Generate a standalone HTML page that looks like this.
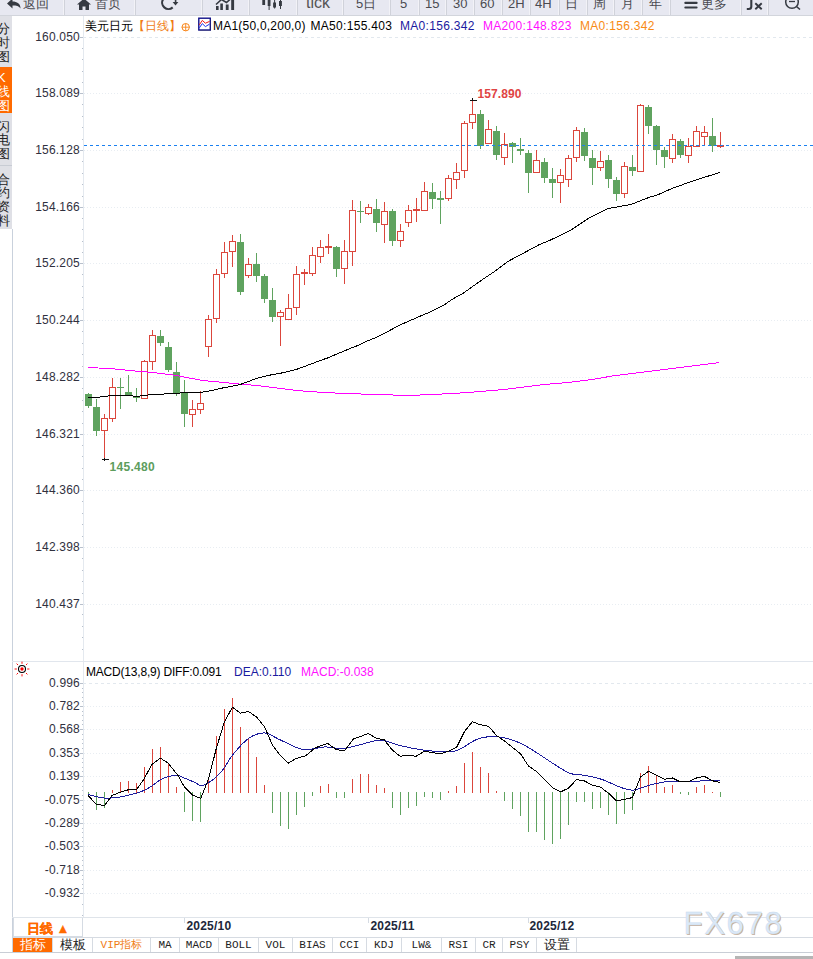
<!DOCTYPE html>
<html><head><meta charset="utf-8">
<style>
*{margin:0;padding:0;box-sizing:border-box}
html,body{width:813px;height:959px;overflow:hidden;background:#fff}
body{position:relative;font-family:"Liberation Sans",sans-serif;font-size:12px;color:#000}
.abs{position:absolute}
#tb{position:absolute;left:0;top:0;width:813px;height:16px;background:#e7e8f1;overflow:hidden}
#tb .t{position:absolute;top:-4.5px;font-size:13px;line-height:16px;color:#4a4a50;white-space:nowrap}
#side{position:absolute;left:0;top:16px;width:12px;height:213px;background:#dfe0e6;overflow:hidden}
#side .s{position:absolute;left:-3px;width:16px;font-size:13px;line-height:13.8px;color:#222;text-align:left}
.yl{position:absolute;right:733px;width:70px;text-align:right;font-size:12px;line-height:16px;color:#30303e;letter-spacing:0.2px}
svg{position:absolute;left:0;top:0}
.lg{position:absolute;top:18px;font-size:12px;line-height:16px;white-space:nowrap;letter-spacing:0.3px}
.xl{position:absolute;top:916px;font-size:12px;font-weight:bold;line-height:20px;color:#20263a;letter-spacing:0.2px}
#bt{position:absolute;left:13px;top:937px;width:800px;height:16px;border-top:1px solid #d6dbe2;border-bottom:1px solid #c9ced6}
#bt .t{position:absolute;top:0;height:14px;font-family:"Liberation Mono",monospace;font-size:11px;line-height:14px;text-align:center;border-right:1px solid #d6dbe2;color:#222}
</style></head><body>
<div id="tb">
 <svg width="813" height="16" style="position:absolute;left:0;top:0">
  <g fill="#f2f2f7"><rect x="63" y="0" width="1" height="16" /><rect x="134" y="0" width="1" height="16" /><rect x="201" y="0" width="1" height="16" /><rect x="248" y="0" width="1" height="16" /><rect x="296" y="0" width="1" height="16" /><rect x="342" y="0" width="1" height="16" /><rect x="389" y="0" width="1" height="16" /><rect x="418" y="0" width="1" height="16" /><rect x="445" y="0" width="1" height="16" /><rect x="473" y="0" width="1" height="16" /><rect x="501" y="0" width="1" height="16" /><rect x="529" y="0" width="1" height="16" /><rect x="558" y="0" width="1" height="16" /><rect x="586" y="0" width="1" height="16" /><rect x="613" y="0" width="1" height="16" /><rect x="641" y="0" width="1" height="16" /><rect x="669" y="0" width="1" height="16" /><rect x="740" y="0" width="1" height="16" /><rect x="767" y="0" width="1" height="16" /></g><g fill="#d0d2da"><rect x="64" y="0" width="1" height="15" /><rect x="135" y="0" width="1" height="15" /><rect x="202" y="0" width="1" height="15" /><rect x="249" y="0" width="1" height="15" /><rect x="297" y="0" width="1" height="15" /><rect x="343" y="0" width="1" height="15" /><rect x="390" y="0" width="1" height="15" /><rect x="419" y="0" width="1" height="15" /><rect x="446" y="0" width="1" height="15" /><rect x="474" y="0" width="1" height="15" /><rect x="502" y="0" width="1" height="15" /><rect x="530" y="0" width="1" height="15" /><rect x="559" y="0" width="1" height="15" /><rect x="587" y="0" width="1" height="15" /><rect x="614" y="0" width="1" height="15" /><rect x="642" y="0" width="1" height="15" /><rect x="670" y="0" width="1" height="15" /><rect x="741" y="0" width="1" height="15" /><rect x="768" y="0" width="1" height="15" /></g>
  <g fill="#363a42" stroke="none">
   <path d="M7,3.5 L12.5,-1.5 L12.5,1.5 C17,1.5 20.5,3.5 20.5,8.5 C19,6 16.5,5.5 12.5,5.5 L12.5,8.5 Z"/>
   <path d="M77,4.5 L84,-1.5 L91,4.5 L89,4.5 L89,10 L85.5,10 L85.5,6.5 L82.5,6.5 L82.5,10 L79,10 L79,4.5 Z"/>
   <path d="M172.6,2 L178.4,2 L175.5,5.6 Z"/>
   <rect x="216" y="6" width="2.6" height="4"/><rect x="220.3" y="3.5" width="2.6" height="6.5"/><rect x="225.8" y="4.5" width="2.8" height="5.5"/><rect x="231.2" y="0" width="2.9" height="10"/>
   <path d="M216,4.5 L221.5,-0.5 L226.5,2.5 L231,-1.5" stroke="#363a42" stroke-width="1.6" fill="none"/>
   <rect x="262.3" y="-2" width="2.8" height="7"/><rect x="267.7" y="-2" width="2.8" height="8"/><rect x="268.6" y="5" width="1" height="5"/>
   <rect x="273.1" y="2.5" width="2.9" height="5"/><rect x="274.1" y="0" width="1" height="8.5"/>
   <rect x="279" y="1" width="2.9" height="5"/><rect x="280" y="0" width="1" height="9"/>
   <rect x="684.3" y="1.8" width="13.3" height="2.1" rx="1"/><rect x="684.3" y="6.4" width="13.3" height="2.2" rx="1"/>
  </g>
  <path d="M163.3,-1 A6.35,6.35 0 0 0 172.7,7.4" stroke="#363a42" stroke-width="2.1" fill="none"/><rect x="174.8" y="-1" width="1.6" height="3.5" fill="#363a42"/>
  <circle cx="792" cy="2" r="6.3" stroke="#363a42" stroke-width="1.5" fill="none"/>
  <path d="M789,1.5 L795,1.5" stroke="#363a42" stroke-width="1.3"/>
  <path d="M796.5,6.5 L800,9.5" stroke="#363a42" stroke-width="1.6"/>
  <path d="M751.3,-2 L751.3,6.5 Q751.3,9 748.8,9 L746.8,9" stroke="#363a42" stroke-width="2.1" fill="none"/>
  <path d="M755.3,3.2 L761.7,9.3 M761.7,3.2 L755.3,9.3" stroke="#363a42" stroke-width="1.9" fill="none"/>
  <rect x="0" y="15" width="813" height="1" fill="#d2d5dc"/>
 </svg>
 <div class="t" style="left:23px;">返回</div>
 <div class="t" style="left:95px;">首页</div>
 <div class="t" style="left:306px;font-size:16px;top:-5px;color:#555">tick</div>
 <div class="t" style="left:356px;">5日</div>
 <div class="t" style="left:400px;">5</div>
 <div class="t" style="left:425px;">15</div>
 <div class="t" style="left:453px;">30</div>
 <div class="t" style="left:480px;">60</div>
 <div class="t" style="left:508px;">2H</div>
 <div class="t" style="left:535px;">4H</div>
 <div class="t" style="left:565px;">日</div>
 <div class="t" style="left:593px;">周</div>
 <div class="t" style="left:620.5px;">月</div>
 <div class="t" style="left:649px;">年</div>
 <div class="t" style="left:701px;">更多</div>
</div>
<div id="side">
 <div class="s" style="top:6px;">分<br>时<br>图</div>
 <div class="abs" style="left:0;top:51px;width:12px;height:46px;background:#ff6a00"></div>
 <div class="s" style="top:55px;color:#fff">K<br>线<br>图</div>
 <div class="abs" style="left:0;top:149px;width:12px;height:1px;background:#c8ccd4"></div>
 <div class="s" style="top:103.5px;">闪<br>电<br>图</div>
 <div class="s" style="top:156.5px;">合<br>约<br>资<br>料</div>
</div>
<div class="abs" style="left:12px;top:229px;width:1px;height:724px;background:#c9d1dc"></div>
<div class="abs" style="left:83px;top:16px;width:1px;height:901px;background:#e4e9ef"></div>
<div class="abs" style="left:12px;top:661px;width:801px;height:1px;background:#e1e6ed"></div>
<svg width="813" height="959" shape-rendering="crispEdges">
<line x1="84" y1="37.5" x2="813" y2="37.5" stroke="#e2e8ee" stroke-dasharray="3 3" stroke-dashoffset="1"/>
<line x1="84" y1="93.5" x2="813" y2="93.5" stroke="#e8edf2" stroke-dasharray="1 2"/>
<line x1="84" y1="150.5" x2="813" y2="150.5" stroke="#e8edf2" stroke-dasharray="1 2"/>
<line x1="84" y1="207.5" x2="813" y2="207.5" stroke="#e8edf2" stroke-dasharray="1 2"/>
<line x1="84" y1="263.5" x2="813" y2="263.5" stroke="#e8edf2" stroke-dasharray="1 2"/>
<line x1="84" y1="320.5" x2="813" y2="320.5" stroke="#e8edf2" stroke-dasharray="1 2"/>
<line x1="84" y1="377.5" x2="813" y2="377.5" stroke="#e8edf2" stroke-dasharray="1 2"/>
<line x1="84" y1="434.5" x2="813" y2="434.5" stroke="#e8edf2" stroke-dasharray="1 2"/>
<line x1="84" y1="490.5" x2="813" y2="490.5" stroke="#e8edf2" stroke-dasharray="1 2"/>
<line x1="84" y1="547.5" x2="813" y2="547.5" stroke="#e8edf2" stroke-dasharray="1 2"/>
<line x1="84" y1="604.5" x2="813" y2="604.5" stroke="#e8edf2" stroke-dasharray="1 2"/>
<line x1="84" y1="683.5" x2="813" y2="683.5" stroke="#e2e8ee" stroke-dasharray="3 3" stroke-dashoffset="1"/>
<line x1="84" y1="706.5" x2="813" y2="706.5" stroke="#e8edf2" stroke-dasharray="1 2"/>
<line x1="84" y1="729.5" x2="813" y2="729.5" stroke="#e8edf2" stroke-dasharray="1 2"/>
<line x1="84" y1="753.5" x2="813" y2="753.5" stroke="#e8edf2" stroke-dasharray="1 2"/>
<line x1="84" y1="776.5" x2="813" y2="776.5" stroke="#e8edf2" stroke-dasharray="1 2"/>
<line x1="84" y1="800.5" x2="813" y2="800.5" stroke="#e8edf2" stroke-dasharray="1 2"/>
<line x1="84" y1="823.5" x2="813" y2="823.5" stroke="#e8edf2" stroke-dasharray="1 2"/>
<line x1="84" y1="846.5" x2="813" y2="846.5" stroke="#e8edf2" stroke-dasharray="1 2"/>
<line x1="84" y1="870.5" x2="813" y2="870.5" stroke="#e8edf2" stroke-dasharray="1 2"/>
<line x1="84" y1="893.5" x2="813" y2="893.5" stroke="#e8edf2" stroke-dasharray="1 2"/>
<line x1="80" y1="37.5" x2="83" y2="37.5" stroke="#b8c0cc"/>
<line x1="82" y1="48.5" x2="83" y2="48.5" stroke="#b8c0cc"/>
<line x1="82" y1="59.5" x2="83" y2="59.5" stroke="#b8c0cc"/>
<line x1="82" y1="71.5" x2="83" y2="71.5" stroke="#b8c0cc"/>
<line x1="82" y1="82.5" x2="83" y2="82.5" stroke="#b8c0cc"/>
<line x1="80" y1="93.5" x2="83" y2="93.5" stroke="#b8c0cc"/>
<line x1="82" y1="104.5" x2="83" y2="104.5" stroke="#b8c0cc"/>
<line x1="82" y1="116.5" x2="83" y2="116.5" stroke="#b8c0cc"/>
<line x1="82" y1="127.5" x2="83" y2="127.5" stroke="#b8c0cc"/>
<line x1="82" y1="139.5" x2="83" y2="139.5" stroke="#b8c0cc"/>
<line x1="80" y1="150.5" x2="83" y2="150.5" stroke="#b8c0cc"/>
<line x1="82" y1="161.5" x2="83" y2="161.5" stroke="#b8c0cc"/>
<line x1="82" y1="173.5" x2="83" y2="173.5" stroke="#b8c0cc"/>
<line x1="82" y1="184.5" x2="83" y2="184.5" stroke="#b8c0cc"/>
<line x1="82" y1="196.5" x2="83" y2="196.5" stroke="#b8c0cc"/>
<line x1="80" y1="207.5" x2="83" y2="207.5" stroke="#b8c0cc"/>
<line x1="82" y1="218.5" x2="83" y2="218.5" stroke="#b8c0cc"/>
<line x1="82" y1="229.5" x2="83" y2="229.5" stroke="#b8c0cc"/>
<line x1="82" y1="241.5" x2="83" y2="241.5" stroke="#b8c0cc"/>
<line x1="82" y1="252.5" x2="83" y2="252.5" stroke="#b8c0cc"/>
<line x1="80" y1="263.5" x2="83" y2="263.5" stroke="#b8c0cc"/>
<line x1="82" y1="274.5" x2="83" y2="274.5" stroke="#b8c0cc"/>
<line x1="82" y1="286.5" x2="83" y2="286.5" stroke="#b8c0cc"/>
<line x1="82" y1="297.5" x2="83" y2="297.5" stroke="#b8c0cc"/>
<line x1="82" y1="309.5" x2="83" y2="309.5" stroke="#b8c0cc"/>
<line x1="80" y1="320.5" x2="83" y2="320.5" stroke="#b8c0cc"/>
<line x1="82" y1="331.5" x2="83" y2="331.5" stroke="#b8c0cc"/>
<line x1="82" y1="343.5" x2="83" y2="343.5" stroke="#b8c0cc"/>
<line x1="82" y1="354.5" x2="83" y2="354.5" stroke="#b8c0cc"/>
<line x1="82" y1="366.5" x2="83" y2="366.5" stroke="#b8c0cc"/>
<line x1="80" y1="377.5" x2="83" y2="377.5" stroke="#b8c0cc"/>
<line x1="82" y1="388.5" x2="83" y2="388.5" stroke="#b8c0cc"/>
<line x1="82" y1="400.5" x2="83" y2="400.5" stroke="#b8c0cc"/>
<line x1="82" y1="411.5" x2="83" y2="411.5" stroke="#b8c0cc"/>
<line x1="82" y1="423.5" x2="83" y2="423.5" stroke="#b8c0cc"/>
<line x1="80" y1="434.5" x2="83" y2="434.5" stroke="#b8c0cc"/>
<line x1="82" y1="445.5" x2="83" y2="445.5" stroke="#b8c0cc"/>
<line x1="82" y1="456.5" x2="83" y2="456.5" stroke="#b8c0cc"/>
<line x1="82" y1="468.5" x2="83" y2="468.5" stroke="#b8c0cc"/>
<line x1="82" y1="479.5" x2="83" y2="479.5" stroke="#b8c0cc"/>
<line x1="80" y1="490.5" x2="83" y2="490.5" stroke="#b8c0cc"/>
<line x1="82" y1="501.5" x2="83" y2="501.5" stroke="#b8c0cc"/>
<line x1="82" y1="513.5" x2="83" y2="513.5" stroke="#b8c0cc"/>
<line x1="82" y1="524.5" x2="83" y2="524.5" stroke="#b8c0cc"/>
<line x1="82" y1="536.5" x2="83" y2="536.5" stroke="#b8c0cc"/>
<line x1="80" y1="547.5" x2="83" y2="547.5" stroke="#b8c0cc"/>
<line x1="82" y1="558.5" x2="83" y2="558.5" stroke="#b8c0cc"/>
<line x1="82" y1="570.5" x2="83" y2="570.5" stroke="#b8c0cc"/>
<line x1="82" y1="581.5" x2="83" y2="581.5" stroke="#b8c0cc"/>
<line x1="82" y1="593.5" x2="83" y2="593.5" stroke="#b8c0cc"/>
<line x1="80" y1="604.5" x2="83" y2="604.5" stroke="#b8c0cc"/>
<line x1="82" y1="48.5" x2="83" y2="48.5" stroke="#b8c0cc"/>
<line x1="82" y1="59.5" x2="83" y2="59.5" stroke="#b8c0cc"/>
<line x1="82" y1="71.5" x2="83" y2="71.5" stroke="#b8c0cc"/>
<line x1="82" y1="82.5" x2="83" y2="82.5" stroke="#b8c0cc"/>
<line x1="82" y1="614.5" x2="83" y2="614.5" stroke="#b8c0cc"/>
<line x1="82" y1="626.5" x2="83" y2="626.5" stroke="#b8c0cc"/>
<line x1="82" y1="637.5" x2="83" y2="637.5" stroke="#b8c0cc"/>
<line x1="82" y1="649.5" x2="83" y2="649.5" stroke="#b8c0cc"/>
<line x1="80" y1="683.5" x2="83" y2="683.5" stroke="#b8c0cc"/>
<line x1="82" y1="688.5" x2="83" y2="688.5" stroke="#b8c0cc"/>
<line x1="82" y1="692.5" x2="83" y2="692.5" stroke="#b8c0cc"/>
<line x1="82" y1="697.5" x2="83" y2="697.5" stroke="#b8c0cc"/>
<line x1="82" y1="701.5" x2="83" y2="701.5" stroke="#b8c0cc"/>
<line x1="80" y1="706.5" x2="83" y2="706.5" stroke="#b8c0cc"/>
<line x1="82" y1="711.5" x2="83" y2="711.5" stroke="#b8c0cc"/>
<line x1="82" y1="715.5" x2="83" y2="715.5" stroke="#b8c0cc"/>
<line x1="82" y1="720.5" x2="83" y2="720.5" stroke="#b8c0cc"/>
<line x1="82" y1="724.5" x2="83" y2="724.5" stroke="#b8c0cc"/>
<line x1="80" y1="729.5" x2="83" y2="729.5" stroke="#b8c0cc"/>
<line x1="82" y1="734.5" x2="83" y2="734.5" stroke="#b8c0cc"/>
<line x1="82" y1="739.5" x2="83" y2="739.5" stroke="#b8c0cc"/>
<line x1="82" y1="743.5" x2="83" y2="743.5" stroke="#b8c0cc"/>
<line x1="82" y1="748.5" x2="83" y2="748.5" stroke="#b8c0cc"/>
<line x1="80" y1="753.5" x2="83" y2="753.5" stroke="#b8c0cc"/>
<line x1="82" y1="758.5" x2="83" y2="758.5" stroke="#b8c0cc"/>
<line x1="82" y1="762.5" x2="83" y2="762.5" stroke="#b8c0cc"/>
<line x1="82" y1="767.5" x2="83" y2="767.5" stroke="#b8c0cc"/>
<line x1="82" y1="771.5" x2="83" y2="771.5" stroke="#b8c0cc"/>
<line x1="80" y1="776.5" x2="83" y2="776.5" stroke="#b8c0cc"/>
<line x1="82" y1="781.5" x2="83" y2="781.5" stroke="#b8c0cc"/>
<line x1="82" y1="786.5" x2="83" y2="786.5" stroke="#b8c0cc"/>
<line x1="82" y1="790.5" x2="83" y2="790.5" stroke="#b8c0cc"/>
<line x1="82" y1="795.5" x2="83" y2="795.5" stroke="#b8c0cc"/>
<line x1="80" y1="800.5" x2="83" y2="800.5" stroke="#b8c0cc"/>
<line x1="82" y1="805.5" x2="83" y2="805.5" stroke="#b8c0cc"/>
<line x1="82" y1="809.5" x2="83" y2="809.5" stroke="#b8c0cc"/>
<line x1="82" y1="814.5" x2="83" y2="814.5" stroke="#b8c0cc"/>
<line x1="82" y1="818.5" x2="83" y2="818.5" stroke="#b8c0cc"/>
<line x1="80" y1="823.5" x2="83" y2="823.5" stroke="#b8c0cc"/>
<line x1="82" y1="828.5" x2="83" y2="828.5" stroke="#b8c0cc"/>
<line x1="82" y1="832.5" x2="83" y2="832.5" stroke="#b8c0cc"/>
<line x1="82" y1="837.5" x2="83" y2="837.5" stroke="#b8c0cc"/>
<line x1="82" y1="841.5" x2="83" y2="841.5" stroke="#b8c0cc"/>
<line x1="80" y1="846.5" x2="83" y2="846.5" stroke="#b8c0cc"/>
<line x1="82" y1="851.5" x2="83" y2="851.5" stroke="#b8c0cc"/>
<line x1="82" y1="856.5" x2="83" y2="856.5" stroke="#b8c0cc"/>
<line x1="82" y1="860.5" x2="83" y2="860.5" stroke="#b8c0cc"/>
<line x1="82" y1="865.5" x2="83" y2="865.5" stroke="#b8c0cc"/>
<line x1="80" y1="870.5" x2="83" y2="870.5" stroke="#b8c0cc"/>
<line x1="82" y1="875.5" x2="83" y2="875.5" stroke="#b8c0cc"/>
<line x1="82" y1="879.5" x2="83" y2="879.5" stroke="#b8c0cc"/>
<line x1="82" y1="884.5" x2="83" y2="884.5" stroke="#b8c0cc"/>
<line x1="82" y1="888.5" x2="83" y2="888.5" stroke="#b8c0cc"/>
<line x1="80" y1="893.5" x2="83" y2="893.5" stroke="#b8c0cc"/>
<line x1="82" y1="904.5" x2="83" y2="904.5" stroke="#b8c0cc"/>
<line x1="82" y1="915.5" x2="83" y2="915.5" stroke="#b8c0cc"/>
<rect x="88" y="393" width="1" height="15" fill="#5fa35f"/>
<rect x="85" y="394" width="7" height="12" fill="#5fa35f"/>
<rect x="96" y="399" width="1" height="37" fill="#5fa35f"/>
<rect x="93" y="407" width="7" height="24" fill="#5fa35f"/>
<rect x="104" y="414" width="1" height="4" fill="#db463c"/>
<rect x="104" y="431" width="1" height="29" fill="#db463c"/>
<rect x="101" y="418" width="7" height="13" fill="#db463c"/>
<rect x="102" y="419" width="5" height="11" fill="#fff"/>
<rect x="112" y="378" width="1" height="9" fill="#db463c"/>
<rect x="112" y="419" width="1" height="3" fill="#db463c"/>
<rect x="109" y="387" width="7" height="32" fill="#db463c"/>
<rect x="110" y="388" width="5" height="30" fill="#fff"/>
<rect x="120" y="378" width="1" height="31" fill="#5fa35f"/>
<rect x="117" y="387" width="7" height="1" fill="#5fa35f"/>
<rect x="128" y="375" width="1" height="21" fill="#5fa35f"/>
<rect x="125" y="392" width="7" height="3" fill="#5fa35f"/>
<rect x="136" y="388" width="1" height="14" fill="#5fa35f"/>
<rect x="133" y="396" width="7" height="2" fill="#5fa35f"/>
<rect x="144" y="360" width="1" height="1" fill="#db463c"/>
<rect x="141" y="361" width="7" height="38" fill="#db463c"/>
<rect x="142" y="362" width="5" height="36" fill="#fff"/>
<rect x="152" y="330" width="1" height="5" fill="#db463c"/>
<rect x="152" y="362" width="1" height="8" fill="#db463c"/>
<rect x="149" y="335" width="7" height="27" fill="#db463c"/>
<rect x="150" y="336" width="5" height="25" fill="#fff"/>
<rect x="160" y="330" width="1" height="16" fill="#5fa35f"/>
<rect x="157" y="336" width="7" height="7" fill="#5fa35f"/>
<rect x="168" y="342" width="1" height="30" fill="#5fa35f"/>
<rect x="165" y="347" width="7" height="23" fill="#5fa35f"/>
<rect x="176" y="362" width="1" height="34" fill="#5fa35f"/>
<rect x="173" y="372" width="7" height="22" fill="#5fa35f"/>
<rect x="184" y="380" width="1" height="47" fill="#5fa35f"/>
<rect x="181" y="392" width="7" height="22" fill="#5fa35f"/>
<rect x="192" y="400" width="1" height="9" fill="#db463c"/>
<rect x="192" y="415" width="1" height="12" fill="#db463c"/>
<rect x="189" y="409" width="7" height="6" fill="#db463c"/>
<rect x="190" y="410" width="5" height="4" fill="#fff"/>
<rect x="200" y="391" width="1" height="12" fill="#db463c"/>
<rect x="200" y="410" width="1" height="4" fill="#db463c"/>
<rect x="197" y="403" width="7" height="7" fill="#db463c"/>
<rect x="198" y="404" width="5" height="5" fill="#fff"/>
<rect x="208" y="315" width="1" height="4" fill="#db463c"/>
<rect x="208" y="347" width="1" height="10" fill="#db463c"/>
<rect x="205" y="319" width="7" height="28" fill="#db463c"/>
<rect x="206" y="320" width="5" height="26" fill="#fff"/>
<rect x="216" y="269" width="1" height="5" fill="#db463c"/>
<rect x="216" y="319" width="1" height="4" fill="#db463c"/>
<rect x="213" y="274" width="7" height="45" fill="#db463c"/>
<rect x="214" y="275" width="5" height="43" fill="#fff"/>
<rect x="224" y="242" width="1" height="10" fill="#db463c"/>
<rect x="224" y="274" width="1" height="4" fill="#db463c"/>
<rect x="221" y="252" width="7" height="22" fill="#db463c"/>
<rect x="222" y="253" width="5" height="20" fill="#fff"/>
<rect x="232" y="235" width="1" height="6" fill="#db463c"/>
<rect x="232" y="252" width="1" height="15" fill="#db463c"/>
<rect x="229" y="241" width="7" height="11" fill="#db463c"/>
<rect x="230" y="242" width="5" height="9" fill="#fff"/>
<rect x="240" y="234" width="1" height="61" fill="#5fa35f"/>
<rect x="237" y="242" width="7" height="50" fill="#5fa35f"/>
<rect x="248" y="258" width="1" height="6" fill="#db463c"/>
<rect x="248" y="276" width="1" height="2" fill="#db463c"/>
<rect x="245" y="264" width="7" height="12" fill="#db463c"/>
<rect x="246" y="265" width="5" height="10" fill="#fff"/>
<rect x="256" y="253" width="1" height="29" fill="#5fa35f"/>
<rect x="253" y="264" width="7" height="12" fill="#5fa35f"/>
<rect x="264" y="274" width="1" height="29" fill="#5fa35f"/>
<rect x="261" y="276" width="7" height="23" fill="#5fa35f"/>
<rect x="272" y="288" width="1" height="34" fill="#5fa35f"/>
<rect x="269" y="300" width="7" height="17" fill="#5fa35f"/>
<rect x="280" y="310" width="1" height="2" fill="#db463c"/>
<rect x="280" y="317" width="1" height="29" fill="#db463c"/>
<rect x="277" y="312" width="7" height="5" fill="#db463c"/>
<rect x="278" y="313" width="5" height="3" fill="#fff"/>
<rect x="288" y="294" width="1" height="14" fill="#db463c"/>
<rect x="285" y="308" width="7" height="12" fill="#db463c"/>
<rect x="286" y="309" width="5" height="10" fill="#fff"/>
<rect x="296" y="266" width="1" height="8" fill="#db463c"/>
<rect x="296" y="308" width="1" height="7" fill="#db463c"/>
<rect x="293" y="274" width="7" height="34" fill="#db463c"/>
<rect x="294" y="275" width="5" height="32" fill="#fff"/>
<rect x="304" y="269" width="1" height="16" fill="#db463c"/>
<rect x="301" y="272" width="7" height="2" fill="#db463c"/>
<rect x="312" y="247" width="1" height="8" fill="#db463c"/>
<rect x="312" y="274" width="1" height="2" fill="#db463c"/>
<rect x="309" y="255" width="7" height="19" fill="#db463c"/>
<rect x="310" y="256" width="5" height="17" fill="#fff"/>
<rect x="320" y="240" width="1" height="7" fill="#db463c"/>
<rect x="320" y="257" width="1" height="6" fill="#db463c"/>
<rect x="317" y="247" width="7" height="10" fill="#db463c"/>
<rect x="318" y="248" width="5" height="8" fill="#fff"/>
<rect x="328" y="234" width="1" height="20" fill="#db463c"/>
<rect x="325" y="246" width="7" height="2" fill="#db463c"/>
<rect x="336" y="246" width="1" height="31" fill="#5fa35f"/>
<rect x="333" y="247" width="7" height="22" fill="#5fa35f"/>
<rect x="344" y="240" width="1" height="11" fill="#db463c"/>
<rect x="344" y="269" width="1" height="15" fill="#db463c"/>
<rect x="341" y="251" width="7" height="18" fill="#db463c"/>
<rect x="342" y="252" width="5" height="16" fill="#fff"/>
<rect x="352" y="200" width="1" height="10" fill="#db463c"/>
<rect x="352" y="252" width="1" height="14" fill="#db463c"/>
<rect x="349" y="210" width="7" height="42" fill="#db463c"/>
<rect x="350" y="211" width="5" height="40" fill="#fff"/>
<rect x="360" y="201" width="1" height="22" fill="#5fa35f"/>
<rect x="357" y="211" width="7" height="1" fill="#5fa35f"/>
<rect x="368" y="204" width="1" height="3" fill="#db463c"/>
<rect x="368" y="214" width="1" height="1" fill="#db463c"/>
<rect x="365" y="207" width="7" height="7" fill="#db463c"/>
<rect x="366" y="208" width="5" height="5" fill="#fff"/>
<rect x="376" y="199" width="1" height="33" fill="#5fa35f"/>
<rect x="373" y="209" width="7" height="14" fill="#5fa35f"/>
<rect x="384" y="202" width="1" height="9" fill="#db463c"/>
<rect x="384" y="225" width="1" height="18" fill="#db463c"/>
<rect x="381" y="211" width="7" height="14" fill="#db463c"/>
<rect x="382" y="212" width="5" height="12" fill="#fff"/>
<rect x="392" y="209" width="1" height="37" fill="#5fa35f"/>
<rect x="389" y="211" width="7" height="30" fill="#5fa35f"/>
<rect x="400" y="224" width="1" height="7" fill="#db463c"/>
<rect x="400" y="241" width="1" height="6" fill="#db463c"/>
<rect x="397" y="231" width="7" height="10" fill="#db463c"/>
<rect x="398" y="232" width="5" height="8" fill="#fff"/>
<rect x="408" y="205" width="1" height="5" fill="#db463c"/>
<rect x="408" y="223" width="1" height="4" fill="#db463c"/>
<rect x="405" y="210" width="7" height="13" fill="#db463c"/>
<rect x="406" y="211" width="5" height="11" fill="#fff"/>
<rect x="416" y="198" width="1" height="24" fill="#db463c"/>
<rect x="413" y="209" width="7" height="2" fill="#db463c"/>
<rect x="424" y="182" width="1" height="9" fill="#db463c"/>
<rect x="421" y="191" width="7" height="20" fill="#db463c"/>
<rect x="422" y="192" width="5" height="18" fill="#fff"/>
<rect x="432" y="183" width="1" height="26" fill="#5fa35f"/>
<rect x="429" y="192" width="7" height="7" fill="#5fa35f"/>
<rect x="440" y="191" width="1" height="33" fill="#5fa35f"/>
<rect x="437" y="198" width="7" height="2" fill="#5fa35f"/>
<rect x="448" y="175" width="1" height="3" fill="#db463c"/>
<rect x="448" y="199" width="1" height="2" fill="#db463c"/>
<rect x="445" y="178" width="7" height="21" fill="#db463c"/>
<rect x="446" y="179" width="5" height="19" fill="#fff"/>
<rect x="456" y="163" width="1" height="9" fill="#db463c"/>
<rect x="456" y="180" width="1" height="9" fill="#db463c"/>
<rect x="453" y="172" width="7" height="8" fill="#db463c"/>
<rect x="454" y="173" width="5" height="6" fill="#fff"/>
<rect x="464" y="121" width="1" height="2" fill="#db463c"/>
<rect x="464" y="171" width="1" height="7" fill="#db463c"/>
<rect x="461" y="123" width="7" height="48" fill="#db463c"/>
<rect x="462" y="124" width="5" height="46" fill="#fff"/>
<rect x="472" y="100" width="1" height="14" fill="#db463c"/>
<rect x="472" y="123" width="1" height="6" fill="#db463c"/>
<rect x="469" y="114" width="7" height="9" fill="#db463c"/>
<rect x="470" y="115" width="5" height="7" fill="#fff"/>
<rect x="480" y="110" width="1" height="39" fill="#5fa35f"/>
<rect x="477" y="114" width="7" height="32" fill="#5fa35f"/>
<rect x="488" y="120" width="1" height="9" fill="#db463c"/>
<rect x="485" y="129" width="7" height="15" fill="#db463c"/>
<rect x="486" y="130" width="5" height="13" fill="#fff"/>
<rect x="496" y="126" width="1" height="34" fill="#5fa35f"/>
<rect x="493" y="131" width="7" height="24" fill="#5fa35f"/>
<rect x="504" y="133" width="1" height="11" fill="#db463c"/>
<rect x="504" y="158" width="1" height="7" fill="#db463c"/>
<rect x="501" y="144" width="7" height="14" fill="#db463c"/>
<rect x="502" y="145" width="5" height="12" fill="#fff"/>
<rect x="512" y="142" width="1" height="21" fill="#5fa35f"/>
<rect x="509" y="143" width="7" height="4" fill="#5fa35f"/>
<rect x="520" y="138" width="1" height="17" fill="#5fa35f"/>
<rect x="517" y="149" width="7" height="2" fill="#5fa35f"/>
<rect x="528" y="150" width="1" height="43" fill="#5fa35f"/>
<rect x="525" y="153" width="7" height="20" fill="#5fa35f"/>
<rect x="536" y="150" width="1" height="10" fill="#db463c"/>
<rect x="533" y="160" width="7" height="13" fill="#db463c"/>
<rect x="534" y="161" width="5" height="11" fill="#fff"/>
<rect x="544" y="158" width="1" height="25" fill="#5fa35f"/>
<rect x="541" y="162" width="7" height="16" fill="#5fa35f"/>
<rect x="552" y="168" width="1" height="30" fill="#5fa35f"/>
<rect x="549" y="179" width="7" height="4" fill="#5fa35f"/>
<rect x="560" y="169" width="1" height="6" fill="#db463c"/>
<rect x="560" y="183" width="1" height="20" fill="#db463c"/>
<rect x="557" y="175" width="7" height="8" fill="#db463c"/>
<rect x="558" y="176" width="5" height="6" fill="#fff"/>
<rect x="568" y="155" width="1" height="3" fill="#db463c"/>
<rect x="568" y="180" width="1" height="7" fill="#db463c"/>
<rect x="565" y="158" width="7" height="22" fill="#db463c"/>
<rect x="566" y="159" width="5" height="20" fill="#fff"/>
<rect x="576" y="127" width="1" height="3" fill="#db463c"/>
<rect x="576" y="158" width="1" height="4" fill="#db463c"/>
<rect x="573" y="130" width="7" height="28" fill="#db463c"/>
<rect x="574" y="131" width="5" height="26" fill="#fff"/>
<rect x="584" y="128" width="1" height="33" fill="#5fa35f"/>
<rect x="581" y="132" width="7" height="24" fill="#5fa35f"/>
<rect x="592" y="150" width="1" height="35" fill="#5fa35f"/>
<rect x="589" y="158" width="7" height="10" fill="#5fa35f"/>
<rect x="600" y="151" width="1" height="10" fill="#db463c"/>
<rect x="600" y="168" width="1" height="3" fill="#db463c"/>
<rect x="597" y="161" width="7" height="7" fill="#db463c"/>
<rect x="598" y="162" width="5" height="5" fill="#fff"/>
<rect x="608" y="155" width="1" height="33" fill="#5fa35f"/>
<rect x="605" y="160" width="7" height="19" fill="#5fa35f"/>
<rect x="616" y="177" width="1" height="24" fill="#5fa35f"/>
<rect x="613" y="180" width="7" height="14" fill="#5fa35f"/>
<rect x="624" y="162" width="1" height="4" fill="#db463c"/>
<rect x="624" y="194" width="1" height="4" fill="#db463c"/>
<rect x="621" y="166" width="7" height="28" fill="#db463c"/>
<rect x="622" y="167" width="5" height="26" fill="#fff"/>
<rect x="632" y="155" width="1" height="21" fill="#5fa35f"/>
<rect x="629" y="167" width="7" height="4" fill="#5fa35f"/>
<rect x="640" y="104" width="1" height="1" fill="#db463c"/>
<rect x="637" y="105" width="7" height="67" fill="#db463c"/>
<rect x="638" y="106" width="5" height="65" fill="#fff"/>
<rect x="648" y="105" width="1" height="29" fill="#5fa35f"/>
<rect x="645" y="107" width="7" height="19" fill="#5fa35f"/>
<rect x="656" y="125" width="1" height="40" fill="#5fa35f"/>
<rect x="653" y="126" width="7" height="24" fill="#5fa35f"/>
<rect x="664" y="147" width="1" height="21" fill="#5fa35f"/>
<rect x="661" y="150" width="7" height="7" fill="#5fa35f"/>
<rect x="672" y="134" width="1" height="5" fill="#db463c"/>
<rect x="672" y="159" width="1" height="4" fill="#db463c"/>
<rect x="669" y="139" width="7" height="20" fill="#db463c"/>
<rect x="670" y="140" width="5" height="18" fill="#fff"/>
<rect x="680" y="139" width="1" height="19" fill="#5fa35f"/>
<rect x="677" y="141" width="7" height="14" fill="#5fa35f"/>
<rect x="688" y="138" width="1" height="8" fill="#db463c"/>
<rect x="688" y="156" width="1" height="7" fill="#db463c"/>
<rect x="685" y="146" width="7" height="10" fill="#db463c"/>
<rect x="686" y="147" width="5" height="8" fill="#fff"/>
<rect x="696" y="126" width="1" height="5" fill="#db463c"/>
<rect x="693" y="131" width="7" height="16" fill="#db463c"/>
<rect x="694" y="132" width="5" height="14" fill="#fff"/>
<rect x="704" y="126" width="1" height="6" fill="#db463c"/>
<rect x="704" y="137" width="1" height="9" fill="#db463c"/>
<rect x="701" y="132" width="7" height="5" fill="#db463c"/>
<rect x="702" y="133" width="5" height="3" fill="#fff"/>
<rect x="712" y="118" width="1" height="34" fill="#5fa35f"/>
<rect x="709" y="136" width="7" height="10" fill="#5fa35f"/>
<rect x="720" y="132" width="1" height="16" fill="#db463c"/>
<rect x="717" y="145" width="7" height="2" fill="#db463c"/>
<polyline points="88.0,367.5 108.8,368.5 121.0,369.5 129.0,370.5 141.1,371.5 152.9,372.5 160.9,373.5 168.9,374.5 176.3,375.5 181.4,376.5 186.0,377.5 192.2,378.5 197.4,379.5 202.4,380.5 213.2,381.5 225.0,382.5 233.0,383.5 244.8,384.5 256.6,385.5 264.8,386.5 272.9,387.5 281.0,388.5 289.1,389.5 297.0,390.5 309.0,391.5 324.9,392.5 345.0,393.5 377.0,394.5 408.2,395.5 431.9,394.5 451.8,393.5 468.0,392.5 480.0,391.5 492.0,390.5 504.0,389.5 512.0,388.5 520.0,387.5 528.0,386.5 536.0,385.5 544.1,384.5 556.1,383.5 568.0,382.5 575.9,381.5 584.0,380.5 591.9,379.5 598.9,378.5 604.0,377.5 609.0,376.5 616.0,375.5 624.0,374.5 632.0,373.5 640.0,372.5 648.0,371.5 656.0,370.5 664.0,369.5 672.0,368.5 680.0,367.5 688.0,366.5 696.0,365.5 704.0,364.5 712.0,363.5 719.5,362.5" fill="none" stroke="#ff00ff" stroke-width="1.0" stroke-linejoin="round" shape-rendering="crispEdges"/>
<polyline points="88.0,397.5 96.0,397.5 100.0,397.0 104.0,396.5 108.0,396.0 112.0,395.5 128.0,395.5 132.6,396.0 136.0,396.5 140.0,396.0 144.0,395.5 148.0,395.0 152.0,394.5 160.0,394.5 164.0,394.0 168.0,393.5 176.0,393.5 180.0,393.0 184.0,392.5 200.0,392.5 203.3,392.0 206.7,391.5 212.1,390.5 216.0,389.5 220.0,388.5 225.0,387.5 230.8,386.5 236.2,385.5 240.0,384.5 243.0,383.5 245.5,382.5 248.5,381.5 251.2,380.5 253.6,379.5 256.5,378.5 260.1,377.5 264.1,376.5 268.1,375.5 273.0,374.5 279.0,373.5 284.0,372.5 288.0,371.5 292.0,370.5 296.0,369.5 299.0,368.5 301.6,367.5 304.6,366.5 307.0,365.5 309.5,364.5 312.4,363.5 315.0,362.5 317.6,361.5 320.6,360.5 323.2,359.5 326.0,358.5 329.0,357.5 331.3,356.5 333.4,355.5 352.6,347.5 360.3,344.5 362.0,343.5 364.0,342.5 366.0,341.5 368.4,340.5 371.0,339.5 373.5,338.5 376.0,337.5 378.0,336.5 380.0,335.5 382.0,334.5 384.0,333.5 386.1,332.5 388.0,331.5 389.6,330.5 400.0,325.0 414.8,318.5 429.5,312.2 444.3,304.8 452.2,299.3 463.3,293.2 478.8,282.1 494.3,271.6 507.6,261.6 522.0,253.9 538.6,245.0 549.7,240.4 569.6,230.9 589.5,217.6 607.3,208.7 631.6,204.3 650.0,197.0 656.9,195.2 672.4,188.3 696.5,179.7 716.0,173.7 720.0,172.5" fill="none" stroke="#000000" stroke-width="1.0" stroke-linejoin="round" shape-rendering="crispEdges"/>
<line x1="84" y1="145.5" x2="813" y2="145.5" stroke="#1a80f0" stroke-dasharray="3 3"/>
<rect x="470" y="100" width="7" height="1" fill="#111"/><rect x="472" y="98" width="1" height="3" fill="#111"/>
<rect x="102" y="459" width="7" height="1" fill="#111"/><rect x="104" y="458" width="1" height="3" fill="#111"/>
<rect x="88" y="792" width="1" height="5" fill="#5fa35f"/>
<rect x="96" y="792" width="1" height="18" fill="#5fa35f"/>
<rect x="104" y="792" width="1" height="16" fill="#5fa35f"/>
<rect x="112" y="790" width="1" height="3" fill="#db463c"/>
<rect x="120" y="782" width="1" height="11" fill="#db463c"/>
<rect x="128" y="781" width="1" height="12" fill="#db463c"/>
<rect x="136" y="783" width="1" height="10" fill="#db463c"/>
<rect x="144" y="767" width="1" height="26" fill="#db463c"/>
<rect x="152" y="749" width="1" height="44" fill="#db463c"/>
<rect x="160" y="747" width="1" height="46" fill="#db463c"/>
<rect x="168" y="764" width="1" height="29" fill="#db463c"/>
<rect x="176" y="787" width="1" height="6" fill="#db463c"/>
<rect x="184" y="792" width="1" height="20" fill="#5fa35f"/>
<rect x="192" y="792" width="1" height="29" fill="#5fa35f"/>
<rect x="200" y="792" width="1" height="30" fill="#5fa35f"/>
<rect x="208" y="778" width="1" height="15" fill="#db463c"/>
<rect x="216" y="736" width="1" height="57" fill="#db463c"/>
<rect x="224" y="709" width="1" height="84" fill="#db463c"/>
<rect x="232" y="698" width="1" height="95" fill="#db463c"/>
<rect x="240" y="727" width="1" height="66" fill="#db463c"/>
<rect x="248" y="738" width="1" height="55" fill="#db463c"/>
<rect x="256" y="757" width="1" height="36" fill="#db463c"/>
<rect x="264" y="785" width="1" height="8" fill="#db463c"/>
<rect x="272" y="792" width="1" height="21" fill="#5fa35f"/>
<rect x="280" y="792" width="1" height="34" fill="#5fa35f"/>
<rect x="288" y="792" width="1" height="37" fill="#5fa35f"/>
<rect x="296" y="792" width="1" height="23" fill="#5fa35f"/>
<rect x="304" y="792" width="1" height="15" fill="#5fa35f"/>
<rect x="312" y="792" width="1" height="4" fill="#5fa35f"/>
<rect x="320" y="786" width="1" height="7" fill="#db463c"/>
<rect x="328" y="784" width="1" height="9" fill="#db463c"/>
<rect x="336" y="792" width="1" height="6" fill="#5fa35f"/>
<rect x="344" y="792" width="1" height="6" fill="#5fa35f"/>
<rect x="352" y="779" width="1" height="14" fill="#db463c"/>
<rect x="360" y="774" width="1" height="19" fill="#db463c"/>
<rect x="368" y="774" width="1" height="19" fill="#db463c"/>
<rect x="376" y="785" width="1" height="8" fill="#db463c"/>
<rect x="384" y="788" width="1" height="5" fill="#db463c"/>
<rect x="392" y="792" width="1" height="16" fill="#5fa35f"/>
<rect x="400" y="792" width="1" height="23" fill="#5fa35f"/>
<rect x="408" y="792" width="1" height="16" fill="#5fa35f"/>
<rect x="416" y="792" width="1" height="14" fill="#5fa35f"/>
<rect x="424" y="792" width="1" height="5" fill="#5fa35f"/>
<rect x="432" y="792" width="1" height="6" fill="#5fa35f"/>
<rect x="440" y="792" width="1" height="8" fill="#5fa35f"/>
<rect x="448" y="791" width="1" height="2" fill="#db463c"/>
<rect x="456" y="786" width="1" height="7" fill="#db463c"/>
<rect x="464" y="763" width="1" height="30" fill="#db463c"/>
<rect x="472" y="752" width="1" height="41" fill="#db463c"/>
<rect x="480" y="767" width="1" height="26" fill="#db463c"/>
<rect x="488" y="773" width="1" height="20" fill="#db463c"/>
<rect x="496" y="791" width="1" height="2" fill="#db463c"/>
<rect x="504" y="792" width="1" height="9" fill="#5fa35f"/>
<rect x="512" y="792" width="1" height="17" fill="#5fa35f"/>
<rect x="520" y="792" width="1" height="24" fill="#5fa35f"/>
<rect x="528" y="792" width="1" height="40" fill="#5fa35f"/>
<rect x="536" y="792" width="1" height="40" fill="#5fa35f"/>
<rect x="544" y="792" width="1" height="48" fill="#5fa35f"/>
<rect x="552" y="792" width="1" height="52" fill="#5fa35f"/>
<rect x="560" y="792" width="1" height="47" fill="#5fa35f"/>
<rect x="568" y="792" width="1" height="33" fill="#5fa35f"/>
<rect x="576" y="792" width="1" height="10" fill="#5fa35f"/>
<rect x="584" y="792" width="1" height="10" fill="#5fa35f"/>
<rect x="592" y="792" width="1" height="17" fill="#5fa35f"/>
<rect x="600" y="792" width="1" height="16" fill="#5fa35f"/>
<rect x="608" y="792" width="1" height="23" fill="#5fa35f"/>
<rect x="616" y="792" width="1" height="32" fill="#5fa35f"/>
<rect x="624" y="792" width="1" height="22" fill="#5fa35f"/>
<rect x="632" y="792" width="1" height="18" fill="#5fa35f"/>
<rect x="640" y="773" width="1" height="20" fill="#db463c"/>
<rect x="648" y="766" width="1" height="27" fill="#db463c"/>
<rect x="656" y="776" width="1" height="17" fill="#db463c"/>
<rect x="664" y="787" width="1" height="6" fill="#db463c"/>
<rect x="672" y="785" width="1" height="8" fill="#db463c"/>
<rect x="680" y="792" width="1" height="2" fill="#5fa35f"/>
<rect x="688" y="792" width="1" height="3" fill="#5fa35f"/>
<rect x="696" y="787" width="1" height="6" fill="#db463c"/>
<rect x="704" y="785" width="1" height="8" fill="#db463c"/>
<rect x="712" y="792" width="1" height="1" fill="#db463c"/>
<rect x="720" y="792" width="1" height="5" fill="#5fa35f"/>
<path d="M88.10,794.40 C90.82,795.02 98.98,797.68 104.40,798.10 C109.82,798.52 115.30,797.72 120.60,796.90 C125.90,796.08 132.17,794.33 136.20,793.20 C140.23,792.07 142.15,791.33 144.80,790.10 C147.45,788.87 149.65,787.43 152.10,785.80 C154.55,784.17 157.03,781.77 159.50,780.30 C161.97,778.83 164.43,777.82 166.90,777.00 C169.37,776.18 172.45,775.67 174.30,775.40 C176.15,775.13 176.15,774.88 178.00,775.40 C179.85,775.92 182.73,777.38 185.40,778.50 C188.07,779.62 191.38,780.92 194.00,782.10 C196.62,783.28 199.05,785.28 201.10,785.60 C203.15,785.92 203.80,785.40 206.30,784.00 C208.80,782.60 213.03,779.97 216.10,777.20 C219.17,774.43 221.97,771.10 224.70,767.40 C227.43,763.70 228.53,759.82 232.50,755.00 C236.47,750.18 243.17,742.18 248.50,738.50 C253.83,734.82 259.25,732.68 264.50,732.90 C269.75,733.12 273.58,737.05 280.00,739.80 C286.42,742.55 295.47,748.22 303.00,749.40 C310.53,750.58 318.30,747.07 325.20,746.90 C332.10,746.73 336.20,749.38 344.40,748.40 C352.60,747.42 367.55,742.23 374.40,741.00 C381.25,739.77 380.98,740.18 385.50,741.00 C390.02,741.82 395.15,744.38 401.50,745.90 C407.85,747.42 416.23,749.12 423.60,750.10 C430.97,751.08 439.97,751.80 445.70,751.80 C451.43,751.80 452.95,752.10 458.00,750.10 C463.05,748.10 470.80,742.05 476.00,739.80 C481.20,737.55 484.53,736.93 489.20,736.60 C493.87,736.27 498.67,736.65 504.00,737.80 C509.33,738.95 515.47,740.83 521.20,743.50 C526.93,746.17 533.07,750.45 538.40,753.80 C543.73,757.15 547.87,760.32 553.20,763.60 C558.53,766.88 565.07,771.53 570.40,773.50 C575.73,775.47 579.87,774.38 585.20,775.40 C590.53,776.42 596.67,777.67 602.40,779.60 C608.13,781.53 614.48,785.23 619.60,787.00 C624.72,788.77 628.18,790.48 633.10,790.20 C638.02,789.92 643.87,786.67 649.10,785.30 C654.33,783.93 659.27,782.68 664.50,782.00 C669.73,781.32 675.17,781.28 680.50,781.20 C685.83,781.12 692.50,781.63 696.50,781.50 C700.50,781.37 700.62,780.58 704.50,780.40 C708.38,780.22 717.25,780.40 719.80,780.40" fill="none" stroke="#1c1c9c" stroke-width="1.0" shape-rendering="crispEdges"/>
<polyline points="88.1,795.6 96.2,804.2 104.4,805.5 112.0,795.6 120.6,792.0 129.2,789.5 136.8,789.3 143.5,779.7 152.1,764.3 160.4,758.2 168.1,763.1 178.0,775.4 184.1,786.4 192.7,795.1 200.7,798.4 208.7,778.5 216.5,747.7 224.4,721.8 232.5,707.1 240.4,713.2 248.5,711.5 256.4,716.9 264.5,726.7 272.4,745.2 280.0,755.0 288.3,763.1 295.7,758.7 305.5,755.8 315.4,747.7 327.7,743.5 336.3,749.6 344.4,750.8 353.5,739.0 368.2,733.6 376.4,738.3 384.2,739.8 392.4,750.1 400.2,756.3 408.4,755.0 416.2,756.3 424.3,751.3 440.3,753.8 448.2,751.3 456.8,746.9 464.4,731.7 472.3,721.8 480.6,724.8 488.5,726.2 496.4,735.4 504.5,741.0 520.5,753.8 528.6,766.1 536.5,771.5 544.6,779.6 552.4,787.7 560.6,791.9 568.4,788.2 576.6,779.6 584.4,780.9 592.5,785.3 600.4,787.0 608.5,793.2 616.4,801.0 624.5,799.3 632.4,797.6 640.5,777.0 648.5,771.3 656.5,775.1 664.5,779.2 672.5,778.0 680.5,782.0 688.5,781.5 696.5,778.0 704.5,776.4 712.5,780.8 719.8,782.4" fill="none" stroke="#000000" stroke-width="1.0" stroke-linejoin="round" shape-rendering="crispEdges"/>
</svg>
<div class="yl" style="top:29px">160.050</div><div class="yl" style="top:85px">158.089</div><div class="yl" style="top:142px">156.128</div><div class="yl" style="top:199px">154.166</div><div class="yl" style="top:255px">152.205</div><div class="yl" style="top:312px">150.244</div><div class="yl" style="top:369px">148.282</div><div class="yl" style="top:426px">146.321</div><div class="yl" style="top:482px">144.360</div><div class="yl" style="top:539px">142.398</div><div class="yl" style="top:596px">140.437</div><div class="yl" style="top:675px">0.996</div><div class="yl" style="top:698px">0.782</div><div class="yl" style="top:721px">0.568</div><div class="yl" style="top:745px">0.353</div><div class="yl" style="top:768px">0.139</div><div class="yl" style="top:792px">-0.075</div><div class="yl" style="top:815px">-0.289</div><div class="yl" style="top:838px">-0.503</div><div class="yl" style="top:862px">-0.718</div><div class="yl" style="top:885px">-0.932</div>
<div class="lg" style="left:85px;letter-spacing:0">美元日元</div>
<div class="lg" style="left:133px;color:#f07c14;letter-spacing:0">【日线】</div>
<svg width="30" height="16" style="left:178px;top:16px">
 <circle cx="7.7" cy="11.2" r="3.7" stroke="#f8861a" stroke-width="1" fill="none" shape-rendering="geometricPrecision"/>
 <path d="M3.8,11.2 H11.6 M7.7,7.5 V14.9" stroke="#f8861a" stroke-width="0.9" shape-rendering="geometricPrecision"/>
</svg>
<svg width="14" height="14" style="left:197px;top:17px">
 <rect x="1.8" y="1.2" width="11.5" height="11.8" stroke="#10108a" stroke-width="1.4" fill="#fff" shape-rendering="geometricPrecision"/>
 <path d="M2.6,13.5 H13.8 V2" stroke="#3a3a70" stroke-width="0.8" fill="none" opacity="0.6"/>
 <polyline points="2.4,7.8 5.3,3.4 8.4,6.2 12.6,4.4" stroke="#f01818" stroke-width="1" fill="none" shape-rendering="geometricPrecision"/>
 <polyline points="2.4,10.8 5.3,6.6 8.4,9.6 12.6,7.1" stroke="#1a30f0" stroke-width="1" fill="none" shape-rendering="geometricPrecision"/>
</svg>
<div class="lg" style="left:213px;letter-spacing:0.22px">MA1(50,0,200,0)</div>
<div class="lg" style="left:310.5px">MA50:155.403</div>
<div class="lg" style="left:400px;color:#1a1aa0">MA0:156.342</div>
<div class="lg" style="left:483px;color:#ff10ff">MA200:148.823</div>
<div class="lg" style="left:580px;color:#f88a14">MA0:156.342</div>
<div class="abs" style="left:477.5px;top:86.5px;font-size:12px;font-weight:bold;color:#e04444;line-height:14px;letter-spacing:0.1px">157.890</div>
<div class="abs" style="left:109.5px;top:460px;font-size:12px;font-weight:bold;color:#5d9d5d;line-height:14px;letter-spacing:0.3px">145.480</div>
<svg width="20" height="20" style="left:12px;top:659px">
 <circle cx="10" cy="10" r="3.5" stroke="#000" stroke-width="1.1" fill="none" shape-rendering="geometricPrecision"/>
 <circle cx="10" cy="10" r="1.7" fill="#ff0000" shape-rendering="geometricPrecision"/>
 <g stroke="#ff0000" stroke-width="0.95" shape-rendering="geometricPrecision">
  <path d="M10,2.6 V4.8 M10,15.2 V17.4 M2.6,10 H4.8 M15.2,10 H17.4 M4.6,4.6 L6,6 M14,14 L15.4,15.4 M15.4,4.6 L14,6 M4.6,15.4 L6,14"/>
 </g>
</svg>
<div class="lg" style="left:86px;top:664px;letter-spacing:-0.2px">MACD(13,8,9) DIFF:0.091</div>
<div class="lg" style="left:234px;top:664px;color:#1a1aa0;letter-spacing:0">DEA:0.110</div>
<div class="lg" style="left:301px;top:664px;color:#ff10ff;letter-spacing:0">MACD:-0.038</div>
<div class="abs" style="left:12px;top:917px;width:801px;height:1px;background:#dfe4ea"></div>
<div class="abs" style="left:13px;top:918px;width:70px;height:19px;border:1px solid #d5dbe3;border-top:0"></div>
<div class="abs" style="left:27px;top:920px;font-size:13px;font-weight:bold;color:#ff6a00;line-height:18px;-webkit-text-stroke:0.3px #ff6a00">日线 ▲</div>
<div class="xl" style="left:186.5px">2025/10</div>
<div class="xl" style="left:370.5px">2025/11</div>
<div class="xl" style="left:529.5px">2025/12</div>
<div class="abs" style="left:184px;top:918px;width:1px;height:5px;background:#d5dbe3"></div>
<div class="abs" style="left:368px;top:918px;width:1px;height:5px;background:#d5dbe3"></div>
<div class="abs" style="left:528px;top:918px;width:1px;height:5px;background:#d5dbe3"></div>
<div class="abs" style="left:683.5px;top:906px;font-size:31px;letter-spacing:1.75px;color:#dae8f7;line-height:36px;-webkit-text-stroke:0.4px #c8daee;text-shadow:1px 1px 0 #c9ad92">FX678</div>
<div id="bt">
 <div class="t" style="left:0;width:40px;background:#ff6a00;color:#fff;font-family:'Liberation Sans',sans-serif;font-size:13px">指标</div>
 <div class="t" style="left:40px;width:40px;font-family:'Liberation Sans',sans-serif;font-size:13px">模板</div>
 <div class="t" style="left:80px;width:58px;color:#f07c14">VIP指标</div>
 <div class="t" style="left:138px;width:29px">MA</div>
 <div class="t" style="left:167px;width:39px">MACD</div>
 <div class="t" style="left:206px;width:40px">BOLL</div>
 <div class="t" style="left:246px;width:34px">VOL</div>
 <div class="t" style="left:280px;width:40px">BIAS</div>
 <div class="t" style="left:320px;width:34px">CCI</div>
 <div class="t" style="left:354px;width:35px">KDJ</div>
 <div class="t" style="left:389px;width:40px">LW&amp;</div>
 <div class="t" style="left:429px;width:34px">RSI</div>
 <div class="t" style="left:463px;width:27px">CR</div>
 <div class="t" style="left:490px;width:34px">PSY</div>
 <div class="t" style="left:524px;width:40px;font-family:'Liberation Sans',sans-serif;font-size:13px">设置</div>
</div>
<div class="abs" style="left:0;top:952px;width:813px;height:1px;background:#c9ced6"></div>
<div class="abs" style="left:735px;top:956px;width:78px;height:3px;background:#b5b5b5"></div>
</body></html>
